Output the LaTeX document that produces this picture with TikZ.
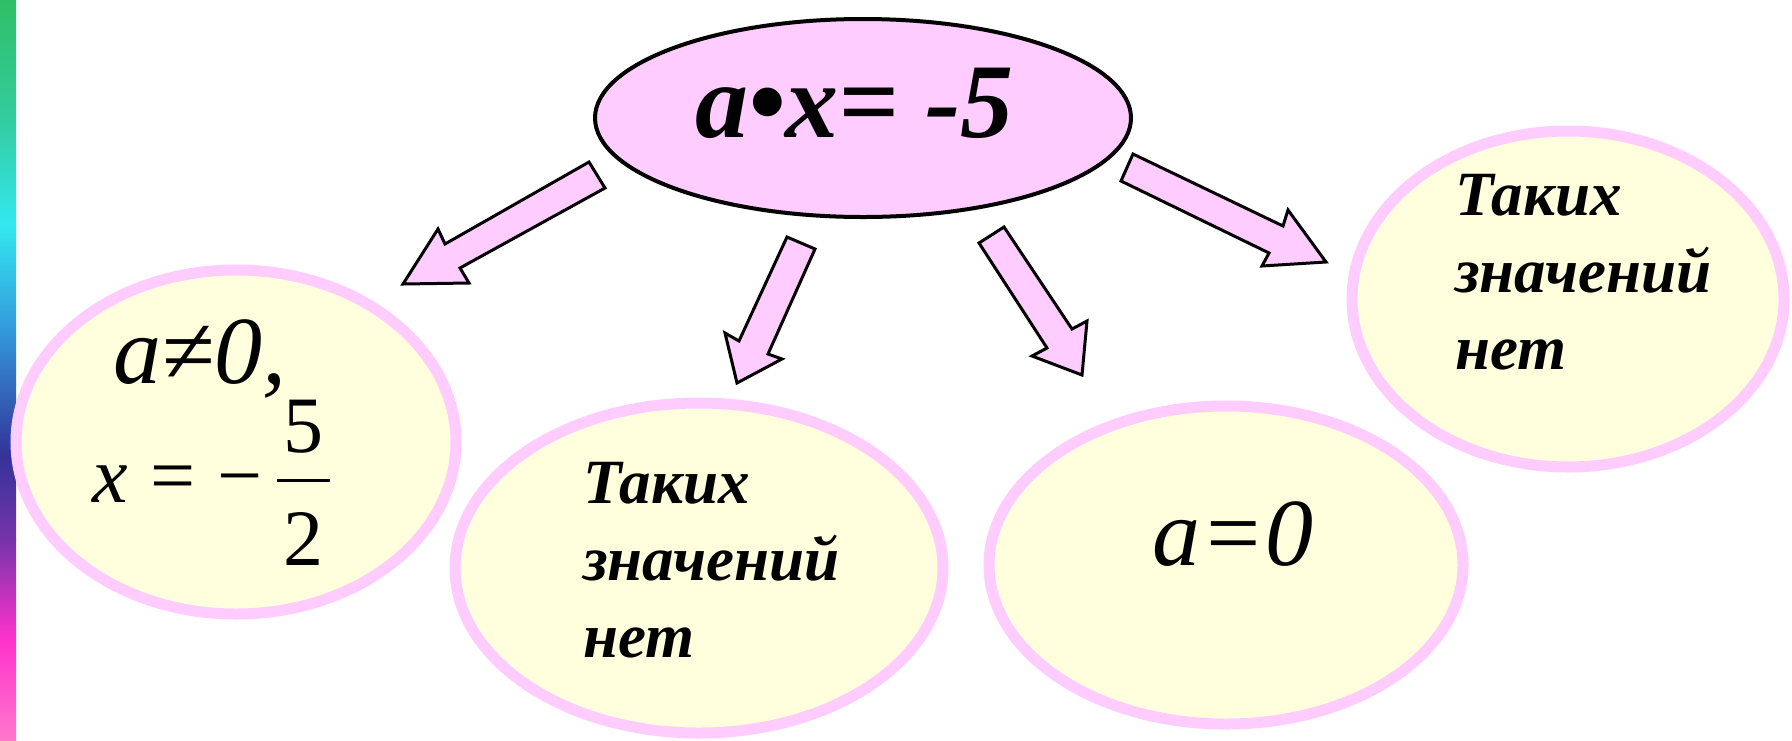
\documentclass[tikz,border=0pt]{standalone}
\usepackage{fontspec}
\setmainfont{Liberation Serif}
\usetikzlibrary{shapes.geometric}
\definecolor{pinkfill}{HTML}{FFCCFF}
\definecolor{yellowfill}{HTML}{FFFFDD}
\definecolor{g1}{HTML}{2FBF66}
\definecolor{g2}{HTML}{33CCA0}
\definecolor{g3}{HTML}{33E8F0}
\definecolor{g4}{HTML}{3399DD}
\definecolor{g5}{HTML}{333399}
\definecolor{g6}{HTML}{7733AA}
\definecolor{g7}{HTML}{FF33CC}
\definecolor{g8}{HTML}{FF77CC}
\begin{document}
\begin{tikzpicture}[x=0.5pt,y=-0.5pt,
  topell/.style={ellipse,draw=black,fill=pinkfill,line width=2pt,inner sep=0pt},
  ansell/.style={ellipse,draw=pinkfill,fill=yellowfill,line width=5.5pt,inner sep=0pt},
  blockarrow/.style={draw=black,fill=pinkfill,line width=1.5pt,line join=miter},
  bigtxt/.style={font=\fontsize{53}{60}\selectfont\bfseries\itshape,inner sep=0pt},
  wordtxt/.style={font=\fontsize{31.5}{38.5}\selectfont\bfseries\itshape,inner sep=0pt},
  mathtxt/.style={font=\fontsize{48}{56}\selectfont\itshape,inner sep=0pt},
  eqtxt/.style={font=\fontsize{40}{48}\selectfont,inner sep=0pt}]
\useasboundingbox (0,0) rectangle (1792,740);
\fill[white] (0,0) rectangle (1792,740);
% left gradient strip
\shade[top color=g1,bottom color=g2] (0,0) rectangle (16,120);
\shade[top color=g2,bottom color=g3] (0,120) rectangle (16,225);
\shade[top color=g3,bottom color=g4] (0,225) rectangle (16,330);
\shade[top color=g4,bottom color=g5] (0,330) rectangle (16,455);
\shade[top color=g5,bottom color=g6] (0,455) rectangle (16,540);
\shade[top color=g6,bottom color=g7] (0,540) rectangle (16,640);
\shade[top color=g7,bottom color=g8] (0,640) rectangle (16,740);

% ellipses
\node[topell,minimum width=268pt,minimum height=99pt] (top) at (863,118) {};
\node[ansell,minimum width=220pt,minimum height=172pt] (e1) at (236,442) {};
\node[ansell,minimum width=244pt,minimum height=165pt] (e2) at (699,568) {};
\node[ansell,minimum width=237pt,minimum height=159pt] (e3) at (1226,565) {};
\node[ansell,minimum width=216pt,minimum height=168pt] (e4) at (1568,299) {};

% block arrows
\draw[blockarrow] (589,162) -- (605,188) -- (460,268) -- (469,283) -- (403,284) -- (438,229) -- (445,244) -- cycle;
\draw[blockarrow] (787,237) -- (815,249) -- (768,354) -- (782,359) -- (737,383) -- (725,333) -- (739,341) -- cycle;
\draw[blockarrow] (1004,227) -- (1072,329) -- (1087,321) -- (1082,375) -- (1032,356) -- (1047,348) -- (979,243) -- cycle;
\draw[blockarrow] (1133,154) -- (1283,226) -- (1288,210) -- (1326,262) -- (1262,266) -- (1269,253) -- (1121,181) -- cycle;

% texts
\node[bigtxt,anchor=base west] (ttop) at (695,137) {a•x= -5};
\node[mathtxt,anchor=base west] (t1a) at (113,383) {a≠0,};
\node[eqtxt,anchor=base west] (t1b) at (92,502) {{\itshape x}\hspace{11.3pt}=\hspace{10.9pt}−};
\node[eqtxt,anchor=base] (t1n) at (303,452) {5};
\node[eqtxt,anchor=base] (t1d) at (303,565) {2};
\draw[line width=1.5pt] (277,480) -- (330,480);
\node[wordtxt,anchor=base west] (t2) at (583,503) {\begin{tabular}[t]{@{}l@{}}Таких\\значений\\нет\end{tabular}};
\node[mathtxt,anchor=base west] (t3) at (1152,565) {a=0};
\node[wordtxt,anchor=base west] (t4) at (1455,215) {\begin{tabular}[t]{@{}l@{}}Таких\\значений\\нет\end{tabular}};
\end{tikzpicture}
\end{document}
